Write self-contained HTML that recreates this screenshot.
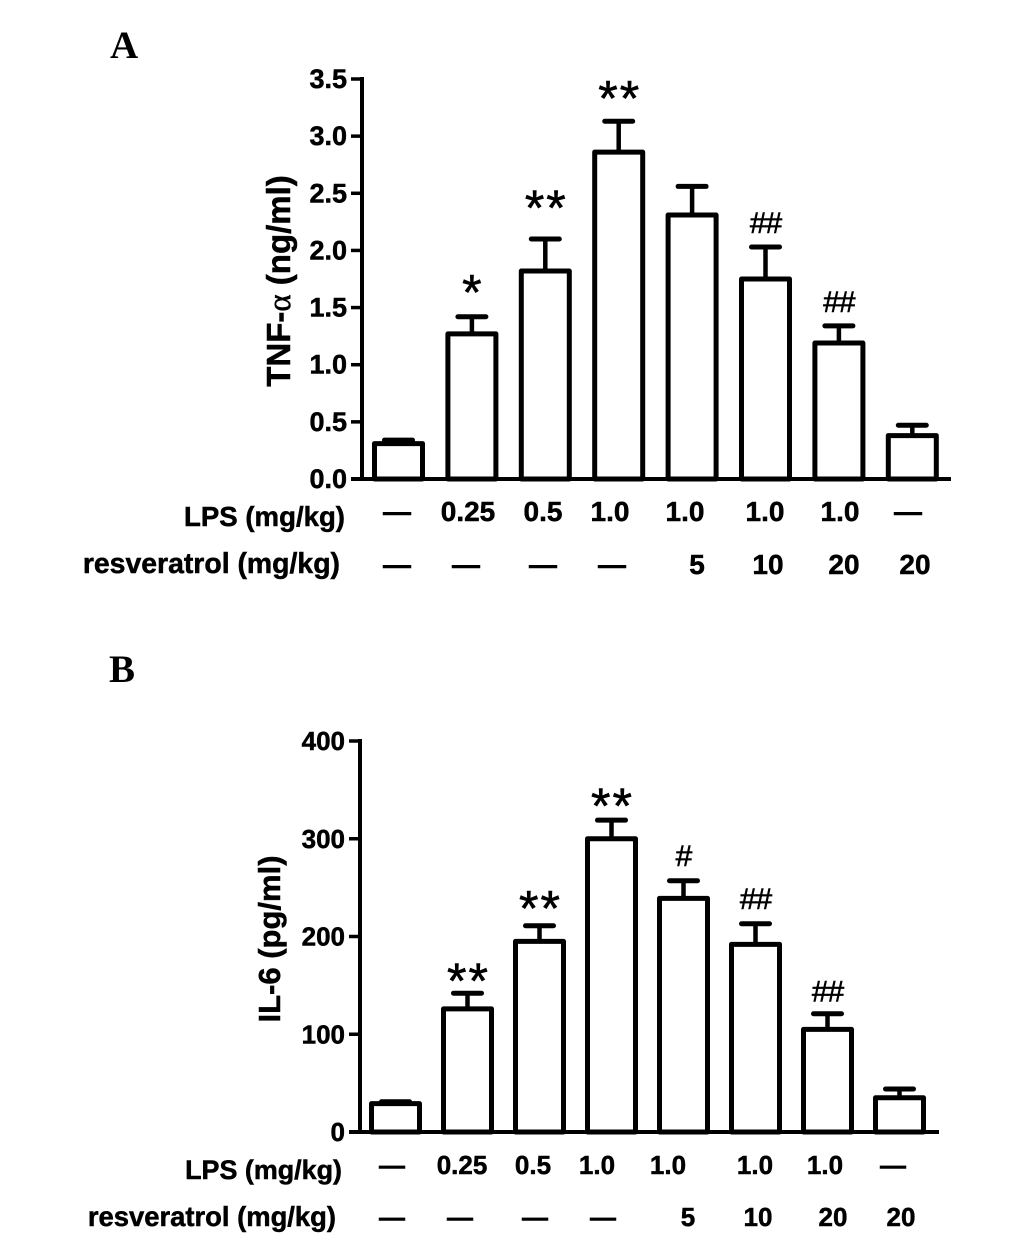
<!DOCTYPE html>
<html>
<head>
<meta charset="utf-8">
<title>TNF-alpha and IL-6 bar charts</title>
<style>
html,body{margin:0;padding:0;background:#fff;width:1033px;height:1243px;overflow:hidden}
svg{display:block}
text{font-family:"Liberation Sans",sans-serif;font-weight:bold;fill:#000;stroke:#000;stroke-width:.5px}
.tick{text-anchor:end}
.row{font-size:28px;text-anchor:middle}
.rowb{font-size:26px;text-anchor:middle}
.rowt{font-size:27.6px;text-anchor:end}
#res-a{font-size:28.4px}
#res-b{font-size:27.4px}
#lps-b{font-size:26.9px}
.panel{font-family:"Liberation Serif",serif;font-size:39px;stroke-width:0}
.title{font-size:31px;text-anchor:middle}
#title-a{font-size:33px}
.sig{font-family:"Liberation Sans",sans-serif;font-weight:normal;text-anchor:middle;stroke-width:.6px}
</style>
</head>
<body>
<svg id="figure" width="1033" height="1243" viewBox="0 0 1033 1243" xmlns="http://www.w3.org/2000/svg">
  <rect width="1033" height="1243" fill="#fff"/>
  <text class="panel" x="110" y="58">A</text>
  <text class="panel" x="109" y="682">B</text>

  <text class="title" id="title-a" transform="translate(290,281) rotate(-90)">TNF-<tspan font-family="Liberation Serif,serif" font-weight="normal">α</tspan> (ng/ml)</text>
  <text class="title" transform="translate(280,939) rotate(-90)">IL-6 (pg/ml)</text>

  <g>
    <text class="rowt" x="345" y="526">LPS (mg/kg)</text>
    <text class="row" x="397" y="521">—</text>
    <text class="row" x="468" y="521">0.25</text>
    <text class="row" x="543" y="521">0.5</text>
    <text class="row" x="610" y="521">1.0</text>
    <text class="row" x="685" y="521">1.0</text>
    <text class="row" x="765" y="521">1.0</text>
    <text class="row" x="840" y="521">1.0</text>
    <text class="row" x="908" y="521">—</text>
  </g>
  <g>
    <text class="rowt" id="res-a" x="340" y="573">resveratrol (mg/kg)</text>
    <text class="row" x="397" y="574">—</text>
    <text class="row" x="466" y="574">—</text>
    <text class="row" x="543" y="574">—</text>
    <text class="row" x="612" y="574">—</text>
    <text class="row" x="697" y="574">5</text>
    <text class="row" x="768" y="574">10</text>
    <text class="row" x="844" y="574">20</text>
    <text class="row" x="915" y="574">20</text>
  </g>
  <g>
    <text class="rowt" id="lps-b" x="342" y="1179">LPS (mg/kg)</text>
    <text class="rowb" x="392" y="1174">—</text>
    <text class="rowb" x="462" y="1174">0.25</text>
    <text class="rowb" x="533" y="1174">0.5</text>
    <text class="rowb" x="597" y="1174">1.0</text>
    <text class="rowb" x="668" y="1174">1.0</text>
    <text class="rowb" x="755" y="1174">1.0</text>
    <text class="rowb" x="825" y="1174">1.0</text>
    <text class="rowb" x="893" y="1174">—</text>
  </g>
  <g>
    <text class="rowt" id="res-b" x="336" y="1226">resveratrol (mg/kg)</text>
    <text class="rowb" x="392" y="1226">—</text>
    <text class="rowb" x="460" y="1226">—</text>
    <text class="rowb" x="535" y="1226">—</text>
    <text class="rowb" x="603" y="1226">—</text>
    <text class="rowb" x="688" y="1226">5</text>
    <text class="rowb" x="758" y="1226">10</text>
    <text class="rowb" x="833" y="1226">20</text>
    <text class="rowb" x="901" y="1226">20</text>
  </g>
</svg>
<script>
// Panel A data
const categories = ['control','lps-0.25','lps-0.5','lps-1.0','lps-1.0-res-5','lps-1.0-res-10','lps-1.0-res-20','res-20'];
const tnfValues = [0.31,1.27,1.82,2.86,2.31,1.75,1.19,0.38];
const tnfErrors = [0.03,0.15,0.28,0.27,0.25,0.28,0.15,0.09];
const tnfMarks = ['','*','**','**','','##','##',''];
const tnfTicks = [0,0.5,1,1.5,2,2.5,3,3.5];
const tnfTickLabels = ['0.0','0.5','1.0','1.5','2.0','2.5','3.0','3.5'];
// Panel B data
const il6Values = [29,126,195,300,239,192,105,35];
const il6Errors = [2,16,16,19,18,21,16,9];
const il6Marks = ['','**','**','**','#','##','##',''];
const il6Ticks = [0,100,200,300,400];
const il6TickLabels = ['0','100','200','300','400'];

const NS = 'http://www.w3.org/2000/svg';
const fig = document.getElementById('figure');

function mk(parent, tag, attrs){
  const e = document.createElementNS(NS, tag);
  for (const k in attrs) e.setAttribute(k, attrs[k]);
  parent.appendChild(e);
  return e;
}

function drawChart(cfg){
  const yScale = v => cfg.y0 - (v - cfg.min) / (cfg.max - cfg.min) * (cfg.y0 - cfg.y1);
  const xScale = i => cfg.x0 + i * cfg.step;
  const line = (g, x1, y1, x2, y2, w) => mk(g, 'line', {x1, y1, x2, y2, stroke:'#000', 'stroke-width':w});

  const chart = mk(fig, 'g', {});
  
  

  cfg.values.forEach((v, i) => {
    const g = mk(chart, 'g', {});
    
    
    const cx = xScale(i), top = yScale(v), errTop = yScale(v + cfg.errors[i]);
    line(g, cx, top, cx, errTop, 4.5);
    mk(g, 'line', {x1: cx - 14, y1: errTop, x2: cx + 14, y2: errTop, stroke: '#000', 'stroke-width': 5, 'stroke-linecap': 'round'});
    mk(g, 'rect', {x: cx - 24, y: top, width: 48, height: cfg.y0 - top, fill: '#fff', stroke: '#000', 'stroke-width': 5, 'stroke-linejoin': 'round'});
    const m = cfg.marks[i];
    if (m) {
      const star = m[0] === '*';
      const t = mk(g, 'text', {
        class: 'sig',
        x: cx + (star ? 1 : 0),
        y: errTop - (star ? 0 : 12) - cfg.markLift[i],
        'font-size': star ? 50 : 30,
        'letter-spacing': star ? 2 : -1
      });
      t.textContent = m;
    }
  });

  const yAxis = mk(chart, 'g', {});
  
  
  line(yAxis, cfg.axisX, cfg.y1 - 2, cfg.axisX, cfg.y0 + 2, 4);
  cfg.ticks.forEach((v, i) => {
    const y = yScale(v);
    line(yAxis, cfg.axisX - 11, y, cfg.axisX, y, 3.5);
    const t = mk(yAxis, 'text', {class: 'tick', x: cfg.axisX - 15, y: y + 9, 'font-size': cfg.tickSize});
    t.textContent = cfg.tickLabels[i];
  });

  const xAxis = mk(chart, 'line', {x1: cfg.axisX - 11, y1: cfg.y0, x2: cfg.xEnd, y2: cfg.y0, stroke: '#000', 'stroke-width': 4});
  
  
}

drawChart({name:'chart-tnf-alpha', key:'a', values:tnfValues, errors:tnfErrors, marks:tnfMarks, ticks:tnfTicks, tickLabels:tnfTickLabels,
  markLift:[0,7,14,6,0,2,2,0], tickSize:27,
  min:0, max:3.5, y0:479, y1:79, axisX:362, xEnd:951, x0:398.5, step:73.4});
drawChart({name:'chart-il-6', key:'b', values:il6Values, errors:il6Errors, marks:il6Marks, ticks:il6Ticks, tickLabels:il6TickLabels,
  markLift:[0,-5,0,-3,3,3,0,0], tickSize:26,
  min:0, max:400, y0:1132, y1:741, axisX:360, xEnd:939, x0:395.5, step:72});
</script>
</body>
</html>
